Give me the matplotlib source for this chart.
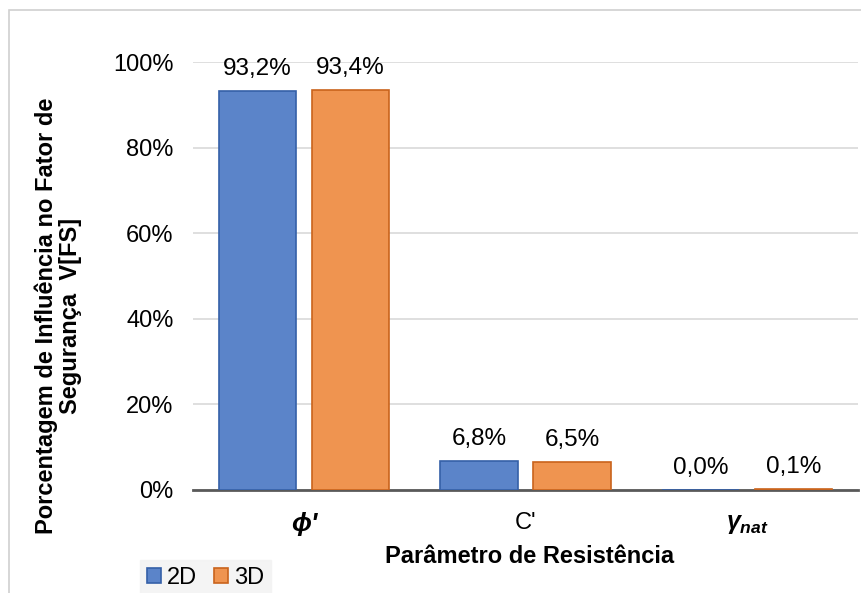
import matplotlib.pyplot as plt
import numpy as np
from matplotlib.patches import Rectangle

plt.rcParams['font.family'] = ['Liberation Sans', 'DejaVu Sans']
plt.rcParams['mathtext.fontset'] = 'custom'
plt.rcParams['mathtext.rm'] = 'Liberation Sans'
plt.rcParams['mathtext.it'] = 'Liberation Sans:italic:bold'
plt.rcParams['mathtext.bf'] = 'Liberation Sans:bold'

categories = ["ϕ'", "C'", r"$\gamma_{nat}$"]
series_names = ["2D", "3D"]
values_2d = [93.2, 6.8, 0.04]
values_3d = [93.4, 6.5, 0.1]
y_ticks = [0, 20, 40, 60, 80, 100]

blue = "#5B84C9"
blue_edge = "#3560A8"
orange = "#EF9450"
orange_edge = "#C9631C"

fig = plt.figure(figsize=(8.62, 5.93), dpi=100)
ax = fig.add_axes([0.224, 0.174, 0.771, 0.721])

x = np.arange(len(categories))
w = 0.35
off = 0.21
b1 = ax.bar(x - off, values_2d, w, color=blue, edgecolor=blue_edge, linewidth=1.2, label=series_names[0], zorder=3)
b2 = ax.bar(x + off, values_3d, w, color=orange, edgecolor=orange_edge, linewidth=1.2, label=series_names[1], zorder=3)

for bars, vals in ((b1, values_2d), (b2, values_3d)):
    for bar, v in zip(bars, vals):
        ax.annotate(f"{v:.1f}%".replace(".", ","),
                    (bar.get_x() + bar.get_width() / 2, bar.get_height()),
                    xytext=(0, 8), textcoords="offset points",
                    ha="center", va="bottom", fontsize=17.5, color="#000000")

ax.set_xlim(-0.5, 2.5)
ax.set_ylim(0, 100)
ax.set_yticks(y_ticks)
ax.set_yticklabels([f"{t}%" for t in y_ticks], fontsize=17)
ax.set_xticks(x)
ax.set_xticklabels(categories, fontsize=17)
lbls = ax.get_xticklabels()
lbls[0].set_fontweight("bold")
lbls[0].set_fontstyle("italic")
lbls[0].set_fontsize(19)
lbls[2].set_fontsize(18)
ax.tick_params(axis="both", length=0)
ax.tick_params(axis="y", pad=14)
ax.tick_params(axis="x", pad=16)

ax.grid(axis="y", color="#D9D9D9", linewidth=1.2, zorder=0)
for s in ["top", "right", "left"]:
    ax.spines[s].set_visible(False)
ax.spines["bottom"].set_color("#595959")
ax.spines["bottom"].set_linewidth(2)
ax.spines["bottom"].set_zorder(2.5)

ax.set_xlabel("Parâmetro de Resistência", fontsize=17, fontweight="bold")
ax.xaxis.set_label_coords(0.507, -0.128)
ax.set_ylabel("Porcentagem de Influência no Fator de\nSegurança  V[FS]", fontsize=17,
              fontweight="bold", linespacing=1.05)
ax.yaxis.set_label_coords(-0.167, 0.4065)

# outer chart border
fig.patches.append(Rectangle((9 / 862, -0.1), 1.2, 1 - 10 / 593 + 0.1, transform=fig.transFigure,
                             fill=False, edgecolor="#D0D0D0", linewidth=1.2))

leg = fig.legend(handles=[b1, b2], loc="lower left", bbox_to_anchor=(140 / 862, -0.005),
                 ncol=2, frameon=True, fontsize=17, handlelength=0.6, handleheight=0.6,
                 handletextpad=0.25, columnspacing=0.7, borderpad=0.3, borderaxespad=0)
leg.get_frame().set_facecolor("#F2F2F2")
leg.get_frame().set_edgecolor("#F2F2F2")
leg.get_frame().set_boxstyle("square", pad=0)

fig.savefig("out.png", dpi=100)
